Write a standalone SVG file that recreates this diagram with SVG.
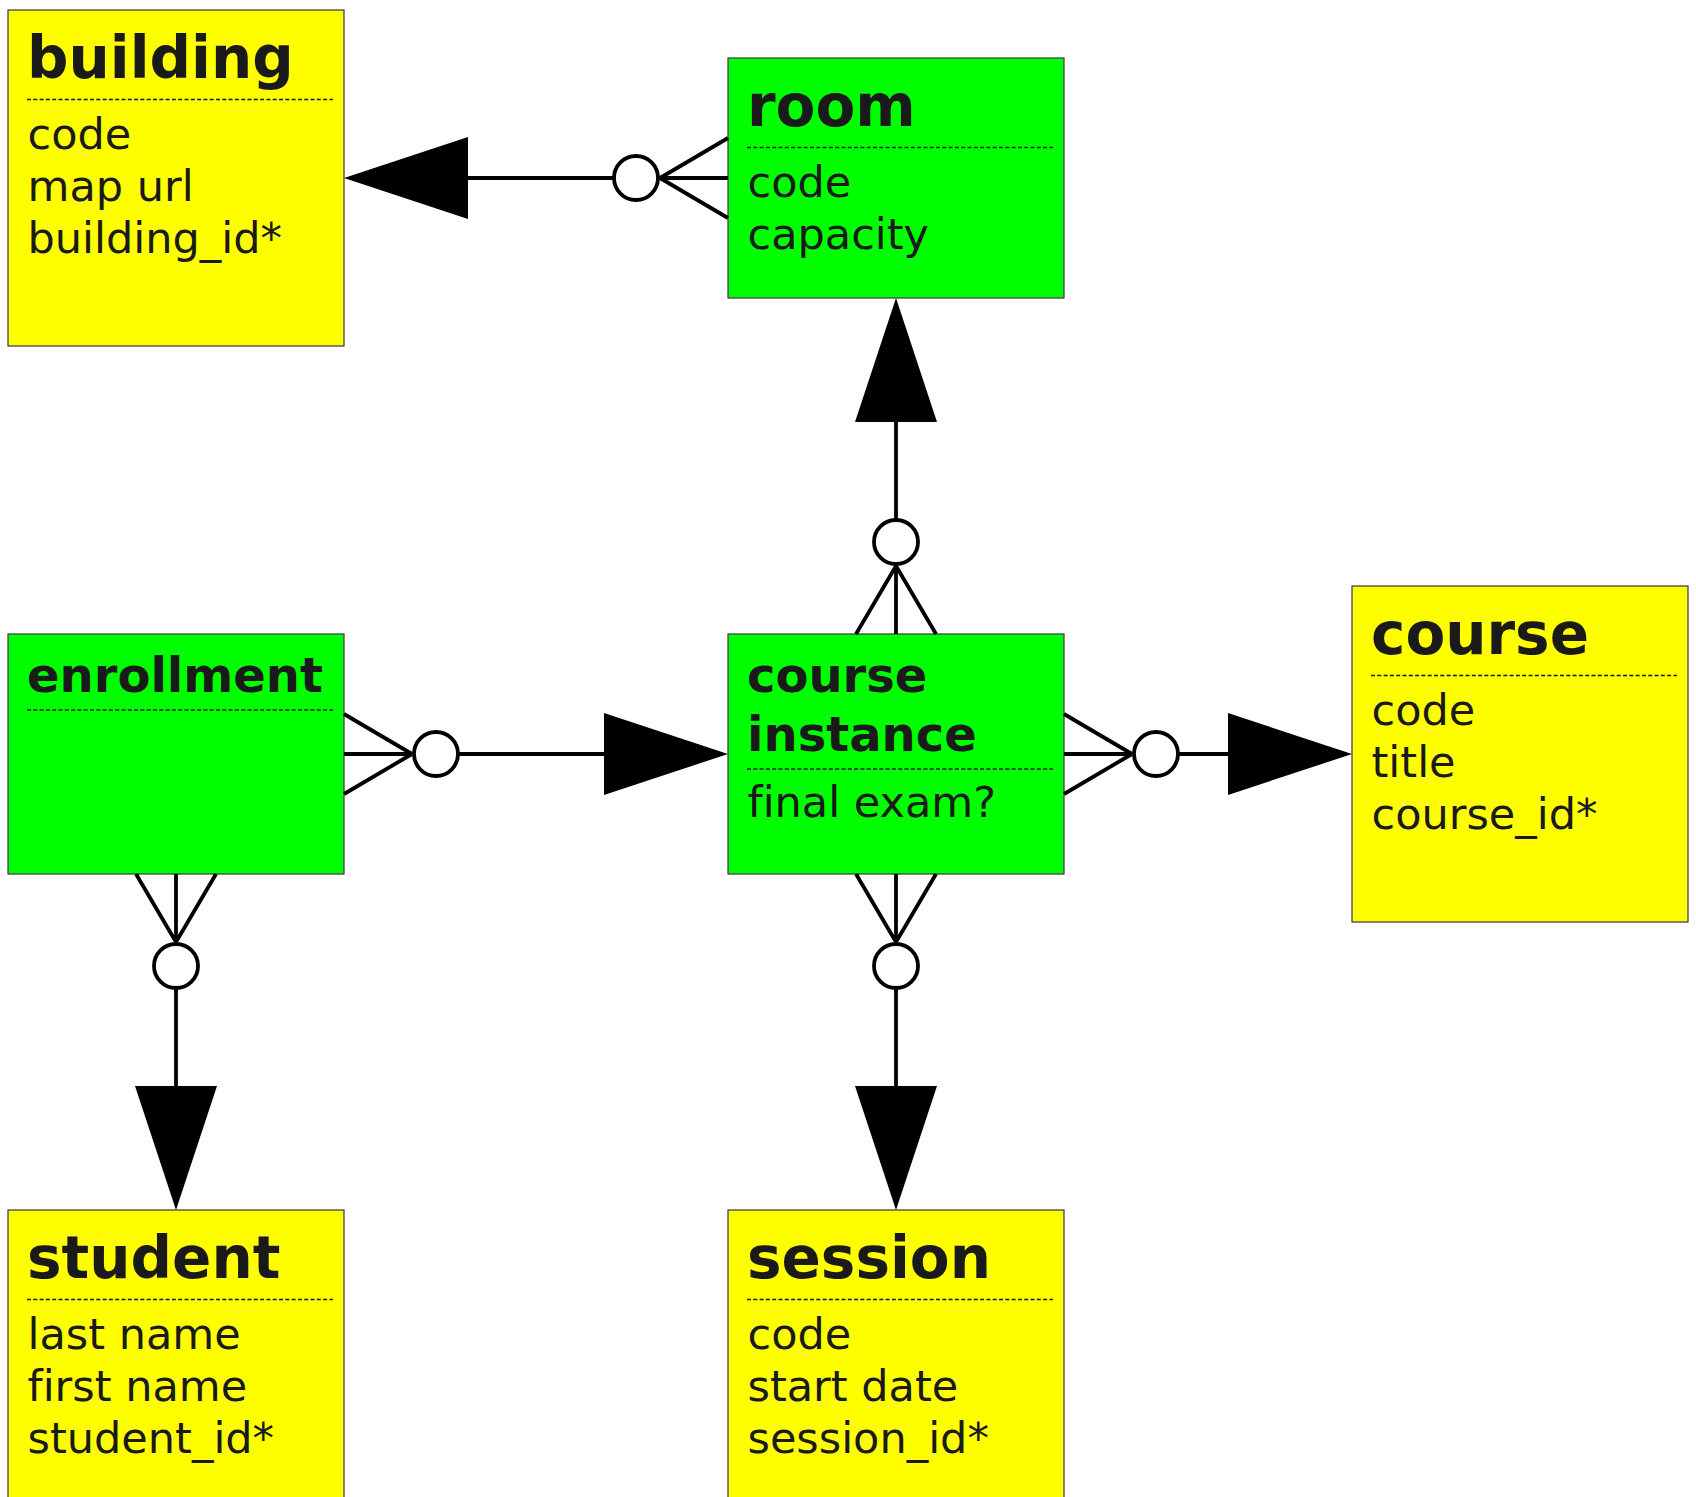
<svg xmlns="http://www.w3.org/2000/svg" xmlns:xlink="http://www.w3.org/1999/xlink" width="1696" height="1497" viewBox="0 0 1696 1497">
<style>
.box{stroke:#444;stroke-width:1.3}
.y{fill:#ffff00}
.g{fill:#00ff00}
.t{font-family:"DejaVu Sans",sans-serif;font-weight:bold;font-size:58px;fill:#1a1a1a}
.ts{font-family:"DejaVu Sans",sans-serif;font-weight:bold;font-size:48px;fill:#1a1a1a}
.f{font-family:"DejaVu Sans",sans-serif;font-size:43px;fill:#1a1a1a;font-variant-ligatures:none}
.d{stroke:#1a1a1a;stroke-width:1.6;stroke-dasharray:4 2.3;fill:none}
.ln{stroke:#000;stroke-width:3.8;fill:none}
.circ{stroke:#000;stroke-width:3.8;fill:#fff}
.hd{fill:#000}
</style>
<defs>
<g id="crow"><path class="ln" d="M0,-40 L68,0 M0,0 L68,0 M0,40 L68,0"/><circle class="circ" cx="92" cy="0" r="22"/></g>
<polygon id="head" class="hd" points="0,0 -124,-41 -124,41"/>
</defs>
<rect width="1696" height="1497" fill="#fff"/>
<g id="building">
<rect class="box y" x="8" y="10" width="336" height="336"/>
<text class="t" x="27" y="78">building</text>
<line class="d" x1="27" y1="99.5" x2="333" y2="99.5"/>
<text class="f" x="27.5" y="149">code</text>
<text class="f" x="27.5" y="201">map url</text>
<text class="f" x="27.5" y="253">building_id*</text>
</g>
<g id="room">
<rect class="box g" x="728" y="58" width="336" height="240"/>
<text class="t" x="747" y="126">room</text>
<line class="d" x1="747" y1="147.5" x2="1053" y2="147.5"/>
<text class="f" x="747.5" y="197">code</text>
<text class="f" x="747.5" y="249">capacity</text>
</g>
<g id="enrollment">
<rect class="box g" x="8" y="634" width="336" height="240"/>
<text class="ts" x="27" y="692">enrollment</text>
<line class="d" x1="27" y1="710" x2="333" y2="710"/>
</g>
<g id="course_instance">
<rect class="box g" x="728" y="634" width="336" height="240"/>
<text class="ts" x="747" y="692">course</text>
<text class="ts" x="747" y="751">instance</text>
<line class="d" x1="747" y1="769" x2="1053" y2="769"/>
<text class="f" x="747.5" y="817">final exam?</text>
</g>
<g id="course">
<rect class="box y" x="1352" y="586" width="336" height="336"/>
<text class="t" x="1371" y="654">course</text>
<line class="d" x1="1371" y1="675.5" x2="1677" y2="675.5"/>
<text class="f" x="1371.5" y="725">code</text>
<text class="f" x="1371.5" y="777">title</text>
<text class="f" x="1371.5" y="829">course_id*</text>
</g>
<g id="student">
<rect class="box y" x="8" y="1210" width="336" height="336"/>
<text class="t" x="27" y="1278">student</text>
<line class="d" x1="27" y1="1299.5" x2="333" y2="1299.5"/>
<text class="f" x="27.5" y="1349">last name</text>
<text class="f" x="27.5" y="1401">first name</text>
<text class="f" x="27.5" y="1453">student_id*</text>
</g>
<g id="session">
<rect class="box y" x="728" y="1210" width="336" height="336"/>
<text class="t" x="747" y="1278">session</text>
<line class="d" x1="747" y1="1299.5" x2="1053" y2="1299.5"/>
<text class="f" x="747.5" y="1349">code</text>
<text class="f" x="747.5" y="1401">start date</text>
<text class="f" x="747.5" y="1453">session_id*</text>
</g>
<g id="connectors">
<g id="room-building">
<use xlink:href="#crow" href="#crow" transform="translate(728,178) rotate(180)"/>
<line class="ln" x1="614" y1="178" x2="466" y2="178"/>
<use xlink:href="#head" href="#head" transform="translate(344,178) rotate(180)"/>
</g>
<g id="instance-room">
<use xlink:href="#crow" href="#crow" transform="translate(896,634) rotate(-90)"/>
<line class="ln" x1="896" y1="520" x2="896" y2="420"/>
<use xlink:href="#head" href="#head" transform="translate(896,298) rotate(-90)"/>
</g>
<g id="enrollment-instance">
<use xlink:href="#crow" href="#crow" transform="translate(344,754)"/>
<line class="ln" x1="458" y1="754" x2="606" y2="754"/>
<use xlink:href="#head" href="#head" transform="translate(728,754)"/>
</g>
<g id="enrollment-student">
<use xlink:href="#crow" href="#crow" transform="translate(176,874) rotate(90)"/>
<line class="ln" x1="176" y1="988" x2="176" y2="1088"/>
<use xlink:href="#head" href="#head" transform="translate(176,1210) rotate(90)"/>
</g>
<g id="instance-session">
<use xlink:href="#crow" href="#crow" transform="translate(896,874) rotate(90)"/>
<line class="ln" x1="896" y1="988" x2="896" y2="1088"/>
<use xlink:href="#head" href="#head" transform="translate(896,1210) rotate(90)"/>
</g>
<g id="instance-course">
<use xlink:href="#crow" href="#crow" transform="translate(1064,754)"/>
<line class="ln" x1="1178" y1="754" x2="1230" y2="754"/>
<use xlink:href="#head" href="#head" transform="translate(1352,754)"/>
</g>
</g>
</svg>
